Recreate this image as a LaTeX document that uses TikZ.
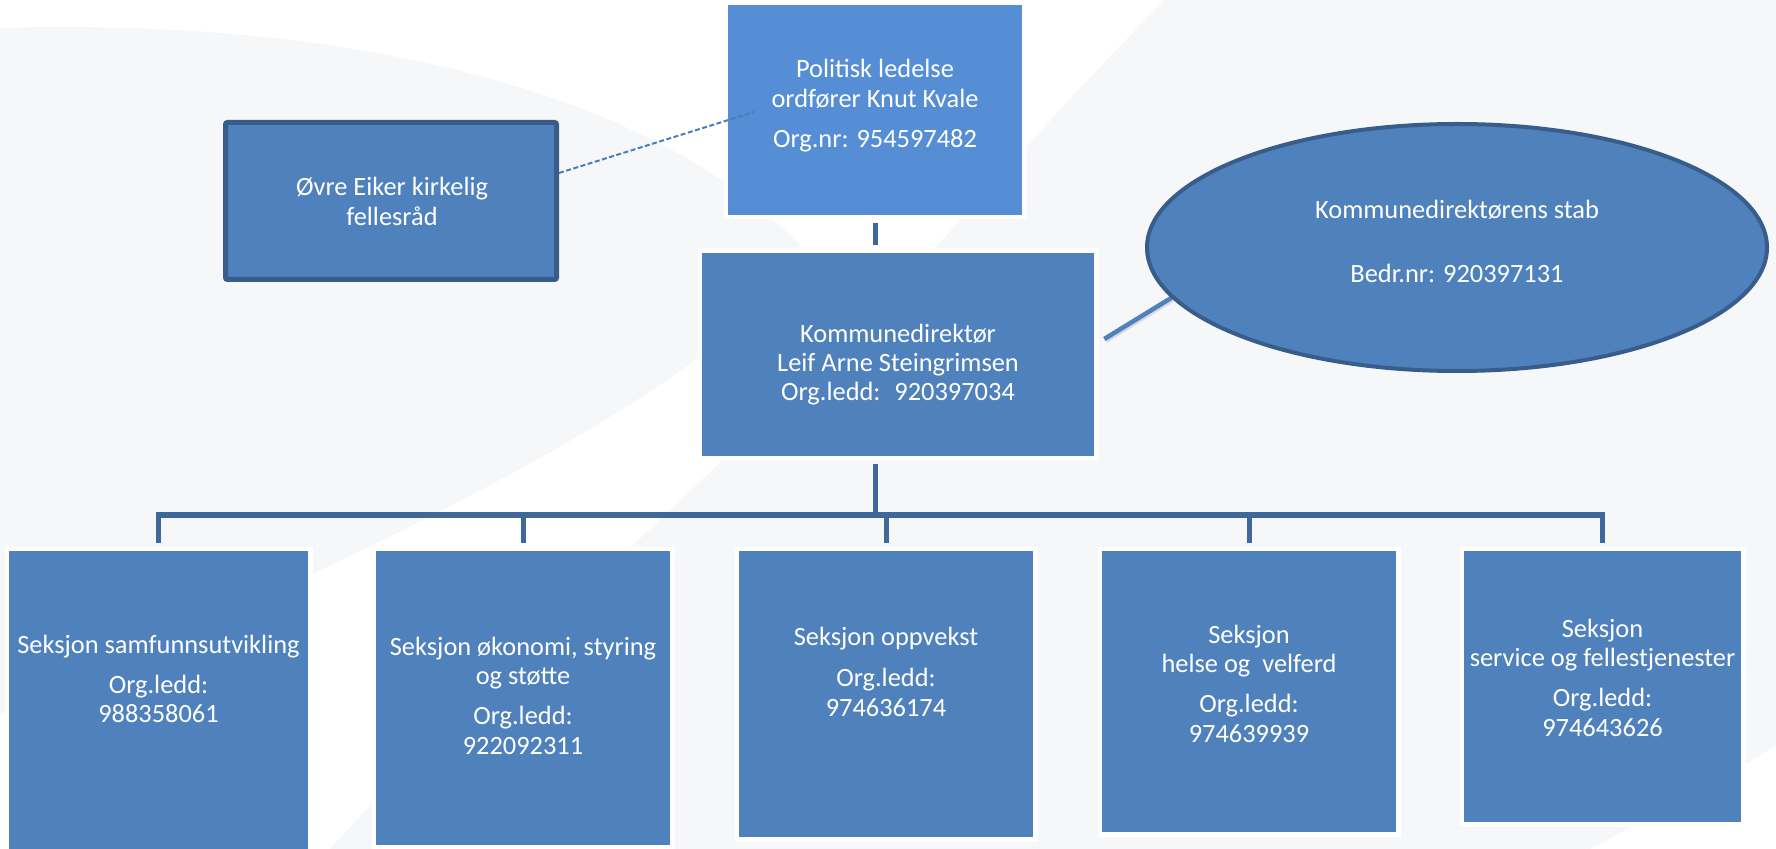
\documentclass[tikz,border=0pt]{standalone}
\usepackage{fontspec}
\setmainfont{Carlito}
\usetikzlibrary{shapes.geometric,backgrounds}
\definecolor{bgGray}{RGB}{245,247,249}
\definecolor{boxC}{RGB}{79,129,189}
\definecolor{polC}{RGB}{85,142,213}
\definecolor{darkC}{RGB}{56,93,138}
\definecolor{connC}{RGB}{62,104,154}
\definecolor{dashC}{RGB}{74,126,187}
\begin{document}
\begin{tikzpicture}[x=0.5pt,y=-0.5pt,
  box/.style={rectangle, fill=boxC, draw=white, line width=2.25pt, inner sep=0pt},
  framedbox/.style={rectangle, fill=boxC, draw=darkC, line width=2.5pt, rounded corners=1pt, inner sep=0pt},
  oval/.style={ellipse, fill=boxC, draw=darkC, line width=2pt, inner sep=0pt},
  txt/.style={anchor=base, inner sep=0pt, text=white, font=\fontsize{13.2}{14.75}\selectfont},
  conn/.style={draw=connC, line width=2.5pt, shorten <=1.9pt, shorten >=1.9pt},
  dashedlink/.style={draw=dashC, line width=1pt, dash pattern=on 2.5pt off 1.25pt},
  stafflink/.style={draw=boxC, line width=2.25pt}
]
\useasboundingbox (0,0) rectangle (1776,849);

% boxes
\node[box, fill=polC, minimum width=149.25pt, minimum height=107.25pt] (pol) at (875,110) {};
\node[box, minimum width=198.25pt, minimum height=103.75pt] (kd) at (898,354.5) {};
\node[framedbox, minimum width=165.5pt, minimum height=78.5pt] (ovre) at (391,201) {};
\node[oval, minimum width=310pt, minimum height=123.5pt] (ell) at (1457,247.5) {};
\node[box, minimum width=151.75pt, minimum height=155.625pt] (b1) at (158.5,704.375) {};
\node[box, minimum width=149.25pt, minimum height=149.25pt] (b2) at (523,698) {};
\node[box, minimum width=149.25pt, minimum height=145.25pt] (b3) at (886,694) {};
\node[box, minimum width=149.25pt, minimum height=142.75pt] (b4) at (1249,691.5) {};
\node[box, minimum width=140.75pt, minimum height=137.75pt] (b5) at (1602.5,686.5) {};

% texts
\node[txt] (tpol) at (875,78) {\begin{tabular}[t]{c}Politisk ledelse\\ ordfører Knut Kvale\\[5.25pt] Org.nr: 954597482\end{tabular}};
\node[txt, font=\fontsize{13.2}{14.5}\selectfont] (tkd) at (898,343) {\begin{tabular}[t]{c}Kommunedirektør\\ Leif Arne Steingrimsen\\ Org.ledd:~ 920397034\end{tabular}};
\node[txt] (tovre) at (392,196) {\begin{tabular}[t]{c}Øvre Eiker kirkelig\\ fellesråd\end{tabular}};
\node[txt] (tell) at (1457,219) {\begin{tabular}[t]{c}Kommunedirektørens stab\\[17.25pt] Bedr.nr: 920397131\end{tabular}};
\node[txt] (tb1) at (158.5,653) {\begin{tabular}[t]{c}Seksjon samfunnsutvikling\\[5.25pt] Org.ledd:\\ 988358061\end{tabular}};
\node[txt] (tb2) at (523,655) {\begin{tabular}[t]{c}Seksjon økonomi, styring\\ og støtte\\[5.25pt] Org.ledd:\\ 922092311\end{tabular}};
\node[txt] (tb3) at (886,645.5) {\begin{tabular}[t]{c}Seksjon oppvekst\\[5.75pt] Org.ledd:\\ 974636174\end{tabular}};
\node[txt] (tb4) at (1249,643) {\begin{tabular}[t]{c}Seksjon\\ helse og~ velferd\\[5.25pt] Org.ledd:\\ 974639939\end{tabular}};
\node[txt] (tb5) at (1602.5,637) {\begin{tabular}[t]{c}Seksjon\\ service og fellestjenester\\[5.25pt] Org.ledd:\\ 974643626\end{tabular}};

% helper coordinates
\coordinate (bus) at (875,515);
\coordinate (polin) at (754,112);
\coordinate (kdr) at ([xshift=2.9pt,yshift=7.75pt]kd.east);

% dashed link on top
\draw[dashedlink] ([yshift=14pt]ovre.east) -- (polin);

\begin{scope}[on background layer]
  \fill[white] (0,0) rectangle (1776,849);
  \fill[bgGray] (0,28) .. controls (350,18) and (650,90) .. (800,245)
     .. controls (760,360) and (450,520) .. (0,715) -- cycle;
  \fill[bgGray] (1165,0) .. controls (1090,75) and (1000,175) .. (937,246)
     .. controls (820,380) and (560,600) .. (330,849) -- (1590,849)
     .. controls (1680,800) and (1740,770) .. (1776,745) -- (1776,0) -- cycle;
  % connectors
  \draw[conn] (pol.south) -- (pol.south |- kd.north);
  \draw[conn, shorten >=0pt] ([xshift=-11.5pt]kd.south) -- (bus);
  \draw[conn, line join=miter] (b1.north) |- (bus) -| (b5.north);
  \draw[conn, shorten <=0pt] (b2.north |- bus) -- (b2.north);
  \draw[conn, shorten <=0pt] (b3.north |- bus) -- (b3.north);
  \draw[conn, shorten <=0pt] (b4.north |- bus) -- (b4.north);
  \draw[stafflink, black, opacity=0.12, transform canvas={xshift=0.8pt,yshift=-0.8pt}] (kdr) -- (ell.190);
  \draw[stafflink] (kdr) -- (ell.190);
\end{scope}
\end{tikzpicture}
\end{document}
